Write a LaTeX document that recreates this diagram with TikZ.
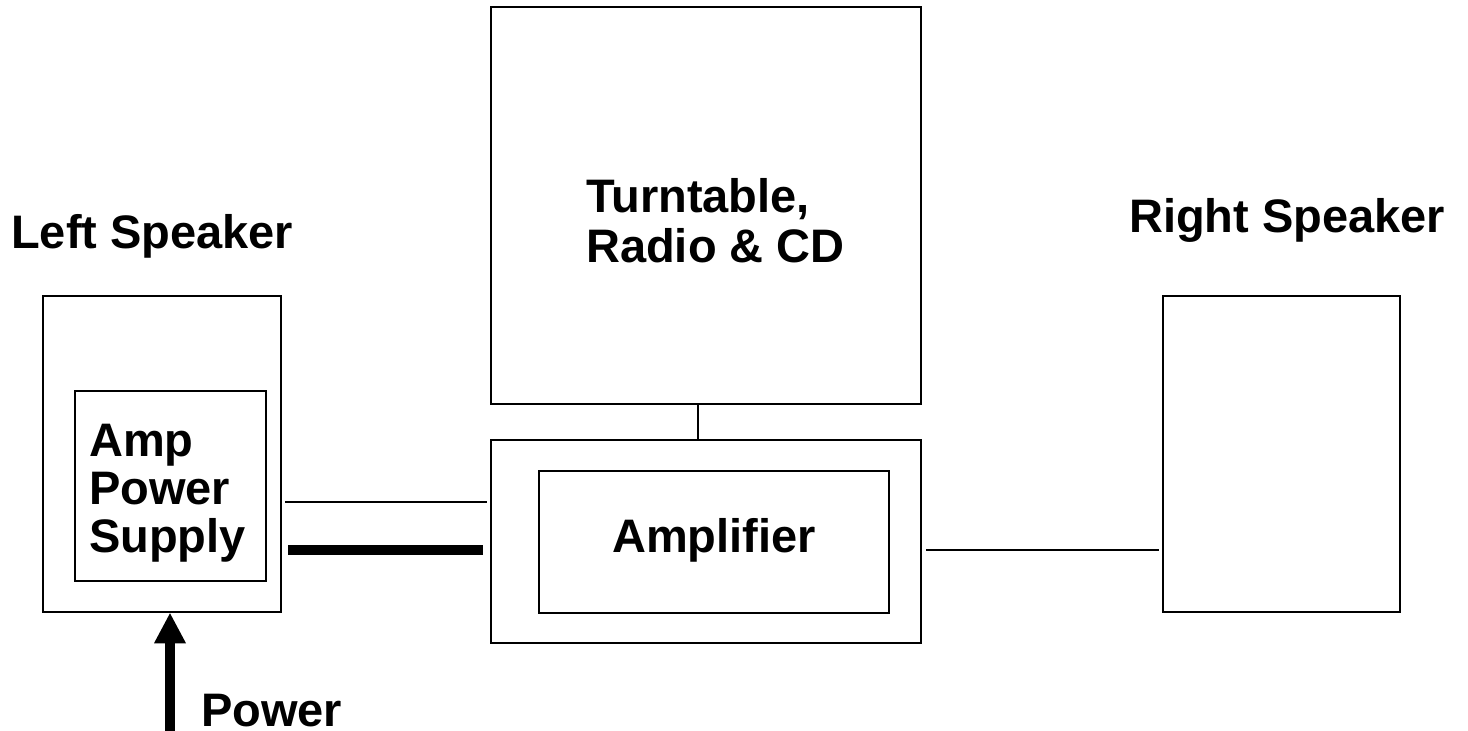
\documentclass[tikz,border=0pt]{standalone}
\usepackage{fontspec}
\setmainfont{Liberation Sans}
\usetikzlibrary{arrows.meta}
\begin{document}
\begin{tikzpicture}[x=1pt,y=-1pt,
  box/.style={draw, line width=2.5pt, inner sep=0pt},
  lbl/.style={font=\bfseries\fontsize{47}{48}\selectfont, inner sep=0pt, anchor=base west, align=left},
  wire/.style={line width=2.5pt},
  thickwire/.style={line width=10pt}]
\useasboundingbox (0,0) rectangle (1468,731);
% boxes
\node[box, minimum width=238pt, minimum height=316pt] (lspk) at (162,454) {};
\node[box, minimum width=191pt, minimum height=190pt] (aps) at (170.5,486) {};
\node[box, minimum width=430pt, minimum height=397pt] (tt) at (706,205.5) {};
\node[box, minimum width=430pt, minimum height=203pt] (ampo) at (706,541.5) {};
\node[box, minimum width=350pt, minimum height=142pt] (ampi) at (714,542) {};
\node[box, minimum width=237pt, minimum height=316pt] (rspk) at (1281.5,454) {};
% labels (multi-line nodes: base is the last line)
\node[lbl] (lsl) at (11,248) {Left Speaker};
\node[lbl] (rsl) at (1129,232) {Right Speaker};
\node[lbl] (apsl) at (89,552) {Amp\\Power\\Supply};
\node[lbl, font=\bfseries\fontsize{47}{50}\selectfont] (ttl) at (586,262) {Turntable,\\Radio \& CD};
\node[lbl] (ampl) at (612,552) {Amplifier};
\node[lbl] (pwl) at (201,726) {Power};
% connectors
\coordinate (ya) at (0,502);
\coordinate (yb) at (0,550);
\coordinate (yc) at (0,550);
\coordinate (pwsrc) at (170,731);
\draw[wire, shorten <=3pt, shorten >=3pt] (lspk.east |- ya) -- (ampo.west |- ya);
\draw[thickwire, shorten <=6pt, shorten >=7pt] (lspk.east |- yb) -- (ampo.west |- yb);
\draw[wire] ([xshift=-8pt]tt.south) -- ([xshift=-8pt]ampo.north);
\draw[wire, shorten <=4pt, shorten >=3pt] (ampo.east |- yc) -- (rspk.west |- yc);
\draw[thickwire, -{Triangle[width=32pt,length=30pt,line width=0pt]}] (pwsrc) -- (lspk.south -| pwsrc);
\end{tikzpicture}
\end{document}
